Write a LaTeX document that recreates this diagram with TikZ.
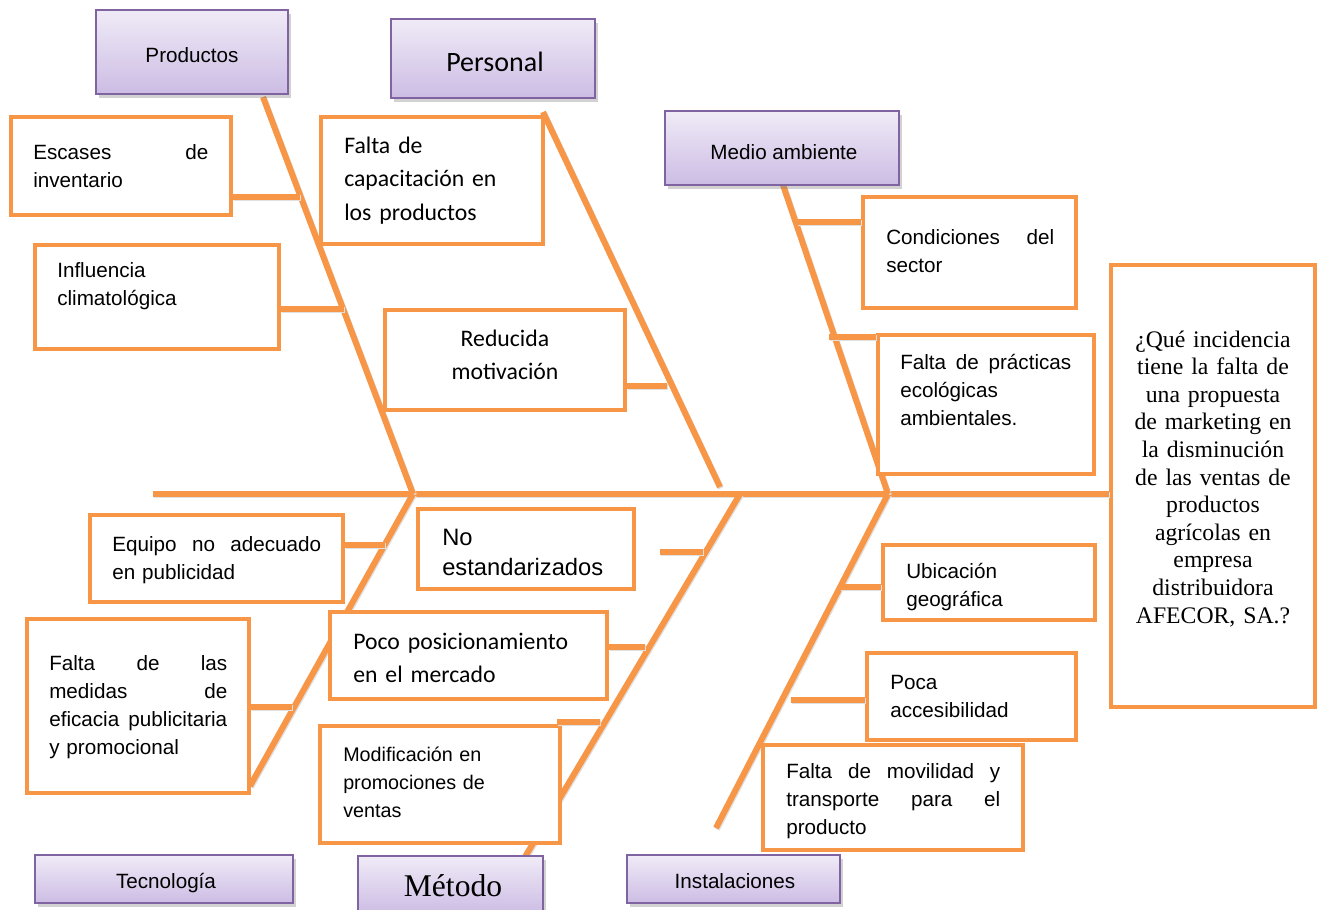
\documentclass[tikz,border=0pt]{standalone}
\usepackage{fontspec}
\setmainfont{Liberation Sans}
\newfontfamily\calibf{Carlito}
\newfontfamily\timesf{Liberation Serif}
\usetikzlibrary{shadows,fit}
\definecolor{orng}{HTML}{F79646}
\definecolor{purp}{HTML}{8064A2}
\definecolor{lavtop}{HTML}{F0EBF7}
\definecolor{lavbot}{HTML}{CCBCE4}
\newcommand\fA{\fontsize{15.5}{21}\selectfont}
\newcommand\fAs{\fontsize{14.8}{21}\selectfont}
\newcommand\fAb{\fontsize{17.8}{22.5}\selectfont}
\newcommand\fC{\calibf\fontsize{17.8}{25.2}\selectfont}
\newcommand\fCb{\calibf\fontsize{21}{25}\selectfont}
\newcommand\fT{\timesf\fontsize{17.8}{20.7}\selectfont}
\newcommand\fTb{\timesf\fontsize{23.7}{28}\selectfont}
\tikzset{
  bone/.style={draw=orng, line width=4.5pt,
    preaction={draw=black!12, line width=4.5pt, transform canvas={shift={(0.7pt,-0.9pt)}}}},
  obox/.style={draw=orng, line width=3pt, fill=white, inner sep=0pt,
    drop shadow={shadow xshift=1pt, shadow yshift=-1.2pt, opacity=0.2}},
  pbox/.style={draw=purp, line width=1.2pt, top color=lavtop, bottom color=lavbot, inner sep=0pt,
    drop shadow={shadow xshift=2pt, shadow yshift=-3pt, opacity=0.35}},
  txt/.style={inner sep=0pt, anchor=base west, align=left, font=\fA},
  ctxt/.style={inner sep=0pt, anchor=base, font=\fA},
}
\begin{document}
\begin{tikzpicture}[x=0.75pt,y=-0.75pt]
\useasboundingbox (0,0) rectangle (1322,910);
\clip (0,0) rectangle (1322,910);
\fill[white] (0,0) rectangle (1322,910);

% ---------- bone coordinates ----------
\coordinate (s0) at (153,494);
\coordinate (p1) at (263,97);   \coordinate (p2) at (413,494);
\coordinate (e1) at (543,112);  \coordinate (e2) at (720,487);
\coordinate (m1) at (783,185);  \coordinate (m2) at (888,494);
\coordinate (t1) at (413,494);  \coordinate (t2) at (250,786);
\coordinate (d1) at (740,494);  \coordinate (d2) at (522,862);
\coordinate (i1) at (888,494);  \coordinate (i2) at (716,828);

% connector points
\coordinate (k1) at (300,197);
\coordinate (k2) at (344,309);
\coordinate (k3) at (667,386);
\coordinate (k4) at (797,222);
\coordinate (k5) at (829,337);
\coordinate (k6) at (385,545);
\coordinate (k7a) at (660,552); \coordinate (k7) at (703,552);
\coordinate (k8) at (292,707);
\coordinate (k9) at (645,647);
\coordinate (k10a) at (557,722); \coordinate (k10) at (600,722);
\coordinate (k11) at (840,587);
\coordinate (k12) at (791,700);

% ---------- question box (needed for spine end) ----------
\node[obox, fit={(1111,265) (1315,707)}] (q) {};

% ---------- spine and bones ----------
\draw[bone] (s0) -- (q.west |- s0);
\draw[bone] (p1) -- (p2);
\draw[bone] (e1) -- (e2);
\draw[bone] (m1) -- (m2);
\draw[bone] (t1) -- (t2);
\draw[bone] (d1) -- (d2);
\draw[bone] (i1) -- (i2);

% ---------- cause boxes ----------
\node[obox, fit={(11,117) (231,215)}] (esc) {};
\node[obox, fit={(35,245) (279,349)}] (inf) {};
\node[obox, fit={(321,117) (543,244)}] (cap) {};
\node[obox, fit={(385,310) (625,410)}] (red) {};
\node[obox, fit={(863,197) (1076,308)}] (con) {};
\node[obox, fit={(878,335) (1094,474)}] (pra) {};
\node[obox, fit={(90,515) (343,602)}] (equ) {};
\node[obox, fit={(418,509) (634,589)}] (nes) {};
\node[obox, fit={(27,619) (249,793)}] (med) {};
\node[obox, fit={(330,612) (607,699)}] (pos) {};
\node[obox, fit={(320,726) (560,843)}] (mod) {};
\node[obox, fit={(883,545) (1095,620)}] (ubi) {};
\node[obox, fit={(867,653) (1076,740)}] (acc) {};
\node[obox, fit={(763,745) (1023,850)}] (mov) {};

% ---------- connectors ----------
\draw[bone] (esc.east |- k1) -- (k1);
\draw[bone] (inf.east |- k2) -- (k2);
\draw[bone] (red.east |- k3) -- (k3);
\draw[bone] (k4) -- (con.west |- k4);
\draw[bone] (k5) -- (pra.west |- k5);
\draw[bone] (equ.east |- k6) -- (k6);
\draw[bone] (k7a) -- (k7);
\draw[bone] (med.east |- k8) -- (k8);
\draw[bone] (pos.east |- k9) -- (k9);
\draw[bone] (k10a) -- (k10);
\draw[bone] (k11) -- (ubi.west |- k11);
\draw[bone] (k12) -- (acc.west |- k12);

% ---------- category boxes ----------
\node[pbox, fit={(96,10) (288,94)}] (cprod) {};
\node[ctxt] (lprod) at (192,62) {Productos};
\node[pbox, fit={(391,19) (595,98)}] (cpers) {};
\node[ctxt, font=\fCb] (lpers) at (495,71) {Personal};
\node[pbox, fit={(665,111) (899,185)}] (cmed) {};
\node[ctxt] (lmed) at (784,159) {Medio ambiente};
\node[pbox, fit={(35,855) (293,903)}] (ctec) {};
\node[ctxt] (ltec) at (166,888) {Tecnología};
\node[pbox, fit={(358,856) (543,914)}] (cmet) {};
\node[ctxt, font=\fTb] (lmet) at (453,896) {Método};
\node[pbox, fit={(627,855) (840,903)}] (cins) {};
\node[ctxt] (lins) at (735,888) {Instalaciones};

% ---------- texts ----------
\node[txt, text width=131.25pt] (tesc) at (33,159) {Escases\hfill de\\inventario};
\node[txt, text width=160pt] (tinf) at (57,277) {Influencia\\climatológica};
\node[txt, font=\fC, text width=150pt] (tcap) at (344,153) {Falta de\\capacitación en\\los productos};
\node[inner sep=0pt, anchor=base, align=center, font=\fC, text width=170pt] (tred) at (505,346) {Reducida\\motivación};
\node[txt, text width=126pt] (tcon) at (886,244) {Condiciones\hfill del\\sector};
\node[txt, text width=128.25pt] (tpra) at (900,369) {Falta\hfill de\hfill prácticas\\ecológicas\\ambientales.};
\node[txt, text width=156.75pt] (tequ) at (112,551) {Equipo\hfill no\hfill adecuado\\en publicidad};
\node[txt, font=\fAb, text width=150pt] (tnes) at (442,545) {No\\estandarizados};
\node[txt, text width=133.5pt] (tmed) at (49,670) {Falta\hfill de\hfill las\\medidas\hfill de\\eficacia\hfill publicitaria\\y promocional};
\node[txt, font=\fC, text width=195pt] (tpos) at (353,649) {Poco posicionamiento\\en el mercado};
\node[txt, font=\fAs, text width=160pt] (tmod) at (343,761) {Modificación en\\promociones de\\ventas};
\node[txt, text width=140pt] (tubi) at (906,578) {Ubicación\\geográfica};
\node[txt, text width=140pt] (tacc) at (890,689) {Poca\\accesibilidad};
\node[txt, text width=160.5pt] (tmov) at (786,778) {Falta\hfill de\hfill movilidad\hfill y\\transporte\hfill para\hfill el\\producto};
\node[inner sep=0pt, anchor=base, align=center, font=\fT, text width=145pt] (tq) at (1213,347)
  {¿Qué incidencia\\tiene la falta de\\una propuesta\\de marketing en\\la disminución\\de las ventas de\\productos\\agrícolas en\\empresa\\distribuidora\\AFECOR, SA.?};
\end{tikzpicture}
\end{document}
